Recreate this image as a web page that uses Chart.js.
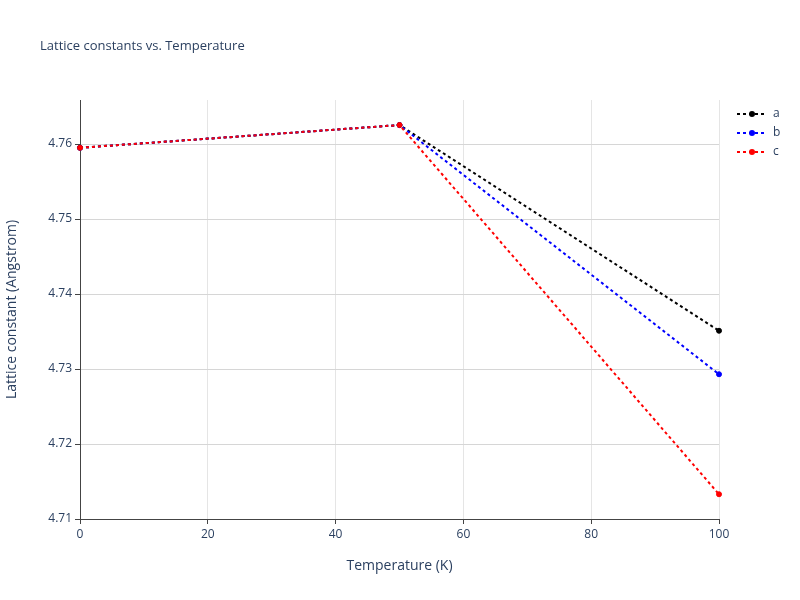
<!DOCTYPE html>
<html>
<head>
<meta charset="utf-8">
<script src="https://cdn.jsdelivr.net/npm/chart.js@4/dist/chart.umd.min.js"></script>
<style>
  body { margin: 0; background: #fff; }
  #wrap { width: 800px; height: 600px; }
</style>
</head>
<body>
<div id="wrap"><canvas id="c" width="800" height="600"></canvas></div>
<script>
const temps = [0, 50, 100];
const aVals = [4.7595, 4.76253, 4.7351];
const bVals = [4.7595, 4.76253, 4.7293];
const cVals = [4.7595, 4.76253, 4.7133];
const seriesNames = ['a', 'b', 'c'];
const seriesColors = ['black', 'blue', 'red'];
const xTicks = [0, 20, 40, 60, 80, 100];
const yTicks = [4.71, 4.72, 4.73, 4.74, 4.75, 4.76];

const font = '"Open Sans", Arial, sans-serif';
const textColor = '#2a3f5f';

function makeSet(i, vals) {
  return {
    label: seriesNames[i],
    data: temps.map((t, k) => ({ x: t, y: vals[k] })),
    borderColor: seriesColors[i],
    backgroundColor: seriesColors[i],
    borderWidth: 2,
    borderDash: [3, 3],
    pointRadius: 2.5,
    pointBorderWidth: 1,
    pointHoverRadius: 2.5,
    order: 3 - i, // last series drawn on top
    clip: false,
  };
}

// title and legend drawn in plotly style
const decor = {
  id: 'decor',
  afterDraw(chart) {
    const ctx = chart.ctx;
    ctx.save();
    ctx.fillStyle = textColor;
    ctx.font = '13px ' + font;
    ctx.textBaseline = 'middle';
    ctx.fillText('Lattice constants vs. Temperature', 40, 46);
    ctx.font = '12px ' + font;
    seriesNames.forEach((n, i) => {
      const y = 114 + i * 19;
      ctx.strokeStyle = seriesColors[i];
      ctx.fillStyle = seriesColors[i];
      ctx.lineWidth = 2;
      ctx.setLineDash([3, 3]);
      ctx.beginPath();
      ctx.moveTo(737, y);
      ctx.lineTo(767, y);
      ctx.stroke();
      ctx.setLineDash([]);
      ctx.beginPath();
      ctx.arc(752, y, 3, 0, Math.PI * 2);
      ctx.fill();
      ctx.fillStyle = textColor;
      ctx.fillText(n, 773, y);
    });
    ctx.restore();
  }
};

new Chart(document.getElementById('c'), {
  type: 'line',
  data: { datasets: [makeSet(0, aVals), makeSet(1, bVals), makeSet(2, cVals)] },
  plugins: [decor],
  options: {
    responsive: false,
    animation: false,
    layout: { padding: { top: 100, right: 81, left: 0, bottom: 0 } },
    plugins: { legend: { display: false }, tooltip: { enabled: false } },
    scales: {
      x: {
        type: 'linear',
        min: 0, max: 100,
        afterBuildTicks: (s) => { s.ticks = xTicks.map(v => ({ value: v })); },
        afterFit: (s) => { s.height = 81; },
        grid: { color: '#e5e5e5', lineWidth: 1, drawTicks: true, tickLength: 5, tickColor: '#444' },
        border: { color: '#444', width: 1 },
        ticks: { color: textColor, font: { family: font, size: 12 } },
        title: { display: true, text: 'Temperature (K)', color: textColor, font: { family: font, size: 14 }, padding: { top: 4, bottom: 26 } },
      },
      y: {
        type: 'linear',
        min: 4.71, max: 4.76587,
        afterBuildTicks: (s) => { s.ticks = yTicks.map(v => ({ value: v })); },
        afterFit: (s) => { s.width = 80; },
        grid: { color: '#d6d6d6', lineWidth: 1, drawTicks: true, tickLength: 5, tickColor: '#444' },
        border: { color: '#444', width: 1 },
        ticks: { color: textColor, font: { family: font, size: 12 }, callback: (v) => String(+v.toFixed(3)) },
        title: { display: true, text: 'Lattice constant (Angstrom)', color: textColor, font: { family: font, size: 14 } },
      }
    }
  }
});
</script>
</body>
</html>
